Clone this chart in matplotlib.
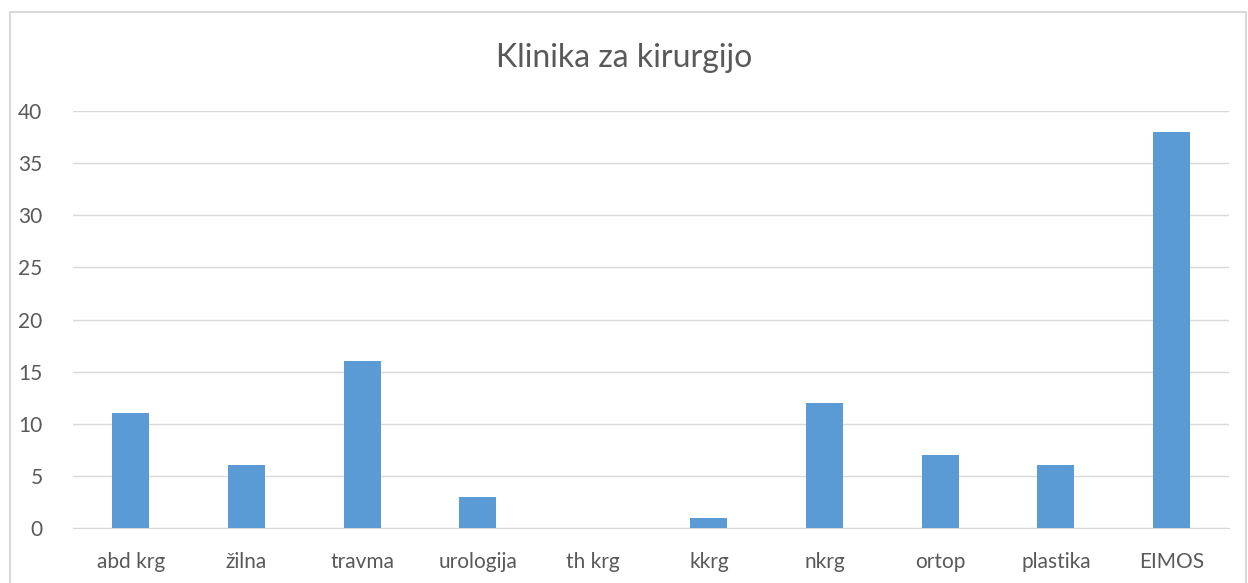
import matplotlib.pyplot as plt
from matplotlib.patches import Rectangle

categories = ['abd krg', 'žilna', 'travma', 'urologija', 'th krg',
              'kkrg', 'nkrg', 'ortop', 'plastika', 'EIMOS']
values = [11, 6, 16, 3, 0, 1, 12, 7, 6, 38]
yticks = [0, 5, 10, 15, 20, 25, 30, 35, 40]

plt.rcParams['font.family'] = ['Lato', 'DejaVu Sans']

fig = plt.figure(figsize=(12.48, 5.83), dpi=100)
ax = fig.add_axes([0.0585, 0.0943, 0.9265, 0.7153])

x = range(len(categories))
ax.bar(x, values, width=0.32, color='#5b9bd5', zorder=3)

ax.set_xlim(-0.5, len(categories) - 0.5)
ax.set_ylim(0, 40)
ax.set_yticks(yticks)
ax.set_xticks(list(x))
ax.set_xticklabels(categories)
ax.tick_params(axis='both', length=0, labelsize=15, colors='#595959')
ax.tick_params(axis='x', pad=17)
ax.tick_params(axis='y', pad=22)
ax.grid(axis='y', color='#d9d9d9', linewidth=1, zorder=0)
for s in ['top', 'right', 'left']:
    ax.spines[s].set_visible(False)
ax.spines['bottom'].set_color('#d9d9d9')

fig.text(0.5, 0.9, 'Klinika za kirurgijo', ha='center', va='center',
         fontsize=23, color='#595959')

# chart border
fig.patches.append(Rectangle((0.008, -0.01), 0.99, 0.99, transform=fig.transFigure,
                             fill=False, edgecolor='#d9d9d9', linewidth=1.5))

fig.savefig('out.png', dpi=100)
